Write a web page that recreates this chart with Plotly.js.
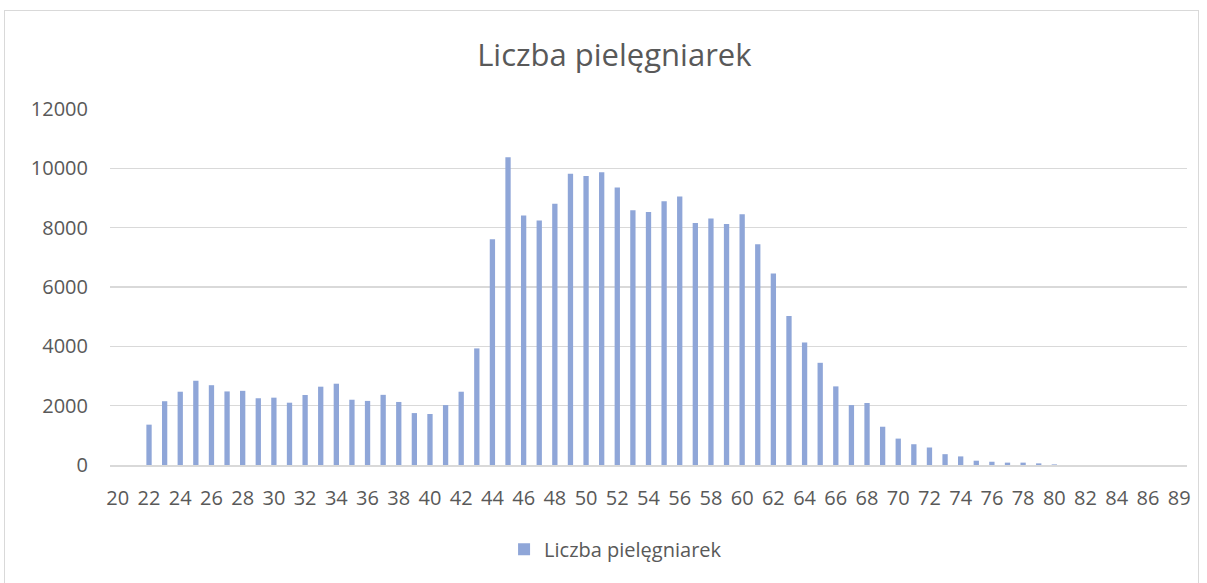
<!DOCTYPE html>
<html>
<head>
<meta charset="utf-8">
<script src="https://cdn.plot.ly/plotly-3.0.1.min.js"></script>
<style>
  html, body { margin: 0; padding: 0; background: #ffffff; }
  #wrap { position: relative; width: 1207px; height: 583px; overflow: hidden; }
  #chart { position: absolute; left: 0; top: 0; width: 1207px; height: 583px; }
  #frame { position: absolute; left: 4px; top: 10px; width: 1195px; height: 600px;
           border: 1px solid #d9d9d9; pointer-events: none; box-sizing: border-box; }
</style>
</head>
<body>
<div id="wrap">
  <div id="chart"></div>
  <div id="frame"></div>
</div>
<script>
const chartTitle = 'Liczba pielęgniarek';
const seriesName = 'Liczba pielęgniarek';

const ages = ['20','21','22','23','24','25','26','27','28','29',
              '30','31','32','33','34','35','36','37','38','39',
              '40','41','42','43','44','45','46','47','48','49',
              '50','51','52','53','54','55','56','57','58','59',
              '60','61','62','63','64','65','66','67','68','69',
              '70','71','72','73','74','75','76','77','78','79',
              '80','81','82','83','84','85','86','87','89'];

const nurses = [0, 0, 1360, 2150, 2470, 2840, 2690, 2480, 2500, 2250,
                2270, 2100, 2360, 2640, 2740, 2200, 2160, 2365, 2125, 1750,
                1720, 2020, 2470, 3930, 7610, 10370, 8410, 8240, 8810, 9820,
                9740, 9865, 9350, 8590, 8530, 8890, 9050, 8160, 8310, 8125,
                8450, 7440, 6455, 5020, 4130, 3445, 2650, 2020, 2090, 1290,
                890, 700, 590, 365, 290, 145, 110, 80, 80, 55,
                20, 0, 0, 0, 0, 0, 0, 0, 0];

const xTickLabels = ['20','22','24','26','28','30','32','34','36','38',
                     '40','42','44','46','48','50','52','54','56','58',
                     '60','62','64','66','68','70','72','74','76','78',
                     '80','82','84','86','89'];

const yTickValues = [0, 2000, 4000, 6000, 8000, 10000, 12000];

const textColor = '#595959';
const fontFam = 'Open Sans, Noto Sans, sans-serif';

const trace = {
  type: 'bar',
  name: seriesName,
  x: ages,
  y: nurses,
  marker: { color: '#8FA6D8', line: { width: 0 } },
  showlegend: true,
  hoverinfo: 'x+y'
};

const layout = {
  width: 1207,
  height: 583,
  paper_bgcolor: '#ffffff',
  plot_bgcolor: '#ffffff',
  margin: { l: 110, r: 20, t: 109, b: 118 },
  bargap: 0.66,
  title: {
    text: chartTitle,
    x: 0.509, xanchor: 'center', xref: 'container',
    y: 0.906, yanchor: 'middle', yref: 'container',
    font: { family: fontFam, size: 31, color: textColor }
  },
  xaxis: {
    type: 'category',
    tickmode: 'array',
    tickvals: xTickLabels,
    ticktext: xTickLabels,
    showgrid: false,
    showline: true,
    linecolor: '#d9d9d9',
    linewidth: 1.5,
    ticks: '',
    ticklabelstandoff: 14,
    tickangle: 0,
    tickfont: { family: fontFam, size: 20, color: textColor },
    fixedrange: true
  },
  yaxis: {
    range: [0, 12000],
    tickmode: 'array',
    tickvals: yTickValues,
    ticktext: yTickValues.map(String),
    showgrid: true,
    gridcolor: '#d9d9d9',
    gridwidth: 1.5,
    zeroline: false,
    showline: false,
    ticks: '',
    ticklabelstandoff: 21,
    tickfont: { family: fontFam, size: 20, color: textColor },
    fixedrange: true
  },
  showlegend: true,
  legend: {
    orientation: 'h',
    x: 0.51, xanchor: 'center', xref: 'container',
    y: 0.058, yanchor: 'middle', yref: 'container',
    font: { family: fontFam, size: 20, color: textColor },
    bgcolor: 'rgba(0,0,0,0)'
  }
};

Plotly.newPlot('chart', [trace], layout, { displayModeBar: false, staticPlot: true });
</script>
</body>
</html>
